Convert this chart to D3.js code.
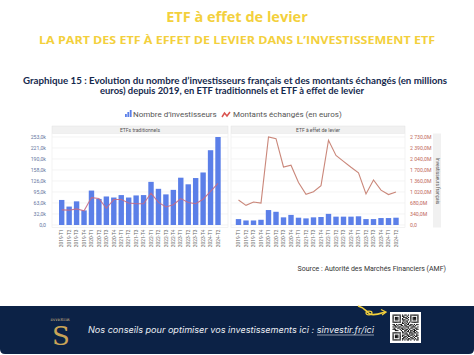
<!DOCTYPE html>
<html><head><meta charset="utf-8">
<script src="https://cdn.jsdelivr.net/npm/d3@7/dist/d3.min.js"></script>
<style>
html,body{margin:0;padding:0;background:#fff;}
svg{display:block;}
</style></head>
<body>
<svg id="c" width="474" height="355"></svg>
<script>
// ---------- DATA ----------
const quarters = ["2019-T1","2019-T2","2019-T3","2019-T4","2020-T1","2020-T2","2020-T3","2020-T4",
  "2021-T1","2021-T2","2021-T3","2021-T4","2022-T1","2022-T2","2022-T3","2022-T4",
  "2023-T1","2023-T2","2023-T3","2023-T4","2024-T1","2024-T2"];
// investors (thousands)
const investorsTrad = [72,53,68,42,99,75,82,79,86,79,85,86,124,104,88,101,136,117,135,151,215,253];
const investorsLev  = [17,13,13,15,43,38,22,29,21,19,22,23,32,24,24,24,25,17,17,20,20,21];
// amounts traded (millions of euros)
const amountsTrad = [470,460,500,440,850,820,520,790,790,680,660,660,990,700,560,630,820,700,660,800,1040,1290];
const amountsLev  = [775,610,715,680,2730,2680,1800,1855,1320,950,1030,1220,2630,2160,1975,1790,1620,965,1395,1080,945,1025];
const leftTickLabels  = ["0,0","32,0k","63,0k","95,0k","126,0k","158,0k","190,0k","221,0k","253,0k"];
const rightTickLabels = ["0,0","340,0M","680,0M","1 020,0M","1 360,0M","1 700,0M","2 040,0M","2 390,0M","2 730,0M"];
const panelTitles = ["ETFs traditionnels","ETF à effet de levier"];
const legendLabels = ["Nombre d’investisseurs","Montants échangés (en euros)"];

// ---------- SETUP ----------
const svg = d3.select("#c");
const yellow = "#F3D03C", navy = "#15294d", barColor = "#5b7fe8", lineColor = "#c47a6c";
const FONT = "Roboto, 'Noto Sans', sans-serif";

// titles
svg.append("text").attr("x",237).attr("y",22).attr("text-anchor","middle")
  .attr("font-family","'Open Sans', sans-serif").attr("font-weight","700").attr("font-size",14.5)
  .attr("fill",yellow).text("ETF à effet de levier");
svg.append("text").attr("x",237).attr("y",43.5).attr("text-anchor","middle")
  .attr("font-family","'Open Sans', sans-serif").attr("font-weight","700").attr("font-size",10)
  .attr("fill",yellow).attr("textLength",396).attr("lengthAdjust","spacingAndGlyphs")
  .text("LA PART DES ETF À EFFET DE LEVIER DANS L’INVESTISSEMENT ETF");
svg.append("text").attr("x",235).attr("y",84).attr("text-anchor","middle")
  .attr("font-family","Lato, sans-serif").attr("font-weight","700").attr("font-size",8.6)
  .attr("fill",navy).attr("textLength",424).attr("lengthAdjust","spacingAndGlyphs")
  .text("Graphique 15 : Evolution du nombre d’investisseurs français et des montants échangés (en millions");
svg.append("text").attr("x",232).attr("y",94).attr("text-anchor","middle")
  .attr("font-family","Lato, sans-serif").attr("font-weight","700").attr("font-size",8.6)
  .attr("fill",navy).attr("textLength",264).attr("lengthAdjust","spacingAndGlyphs")
  .text("euros) depuis 2019, en ETF traditionnels et ETF à effet de levier");

// legend
const lg = svg.append("g");
[[0,3],[2.4,5],[4.8,7]].forEach(d=>{
  lg.append("rect").attr("x",125+d[0]).attr("y",117-d[1]).attr("width",1.8).attr("height",d[1]).attr("fill",barColor);
});
lg.append("text").attr("x",133).attr("y",117).attr("font-family",FONT).attr("font-size",8)
  .attr("fill","#555").text(legendLabels[0]);
lg.append("path").attr("d","M222,117 L224.5,113 L227,116 L230,112").attr("fill","none")
  .attr("stroke","#d9534f").attr("stroke-width",1.5);
lg.append("text").attr("x",233).attr("y",117).attr("font-family",FONT).attr("font-size",8)
  .attr("fill","#555").text(legendLabels[1]);

// scales
const yInv = d3.scaleLinear().domain([0,253]).range([225,137]);
const yAmt = d3.scaleLinear().domain([0,2730]).range([225,137]);
const invTicks = d3.range(9).map(i=>253*i/8);
const amtTicks = d3.range(9).map(i=>2730*i/8);

const panels = [
  {x0:52, x1:228, cx:[61.7,218], inv:investorsTrad, amt:amountsTrad, title:panelTitles[0], lc:"#c46a86"},
  {x0:231, x1:405, cx:[238.5,396], inv:investorsLev, amt:amountsLev, title:panelTitles[1], lc:lineColor}
];

panels.forEach((p,pi)=>{
  const g = svg.append("g");
  g.append("rect").attr("x",p.x0).attr("y",126).attr("width",p.x1-p.x0).attr("height",7.5)
    .attr("fill","#f1f1f1").attr("stroke","#e2e2e2").attr("stroke-width",0.5);
  g.append("text").attr("x",(p.x0+p.x1)/2).attr("y",131.8).attr("text-anchor","middle")
    .attr("font-family",FONT).attr("font-size",5).attr("fill","#555").text(p.title);
  g.append("rect").attr("x",p.x0).attr("y",133.5).attr("width",p.x1-p.x0).attr("height",94)
    .attr("fill","#fff").attr("stroke","#ececec").attr("stroke-width",0.6);
  g.selectAll(".gl").data(invTicks).join("line")
    .attr("x1",p.x0).attr("x2",p.x1).attr("y1",d=>yInv(d)).attr("y2",d=>yInv(d))
    .attr("stroke","#ededed").attr("stroke-width",0.6);
  const x = d3.scalePoint().domain(quarters).range(p.cx);
  const bw = 5.4;
  g.selectAll(".bar").data(p.inv).join("rect")
    .attr("x",(d,i)=>x(quarters[i])-bw/2).attr("width",bw)
    .attr("y",d=>yInv(d)).attr("height",d=>yInv(0)-yInv(d)).attr("fill",barColor);
  const line = d3.line().x((d,i)=>x(quarters[i])).y(d=>yAmt(d));
  g.append("path").datum(p.amt).attr("d",line).attr("fill","none")
    .attr("stroke",p.lc).attr("stroke-width",1.1).attr("stroke-opacity",0.9);
  g.selectAll(".xl").data(quarters).join("text")
    .attr("transform",d=>`translate(${x(d)+1.7},229.5) rotate(-90)`)
    .attr("text-anchor","end").attr("font-family",FONT).attr("font-size",4.8)
    .attr("fill","#666").text(d=>d);
});

// left axis
const la = d3.axisLeft(yInv).tickValues(invTicks).tickSize(0).tickFormat((d,i)=>leftTickLabels[i]);
svg.append("g").attr("transform","translate(49,0)").call(la)
  .call(g=>g.select(".domain").remove())
  .call(g=>g.selectAll("text").attr("font-family",FONT).attr("font-size",5.2).attr("fill","#6575a0"));
// right axis
const ra = d3.axisRight(yAmt).tickValues(amtTicks).tickSize(0).tickFormat((d,i)=>rightTickLabels[i]);
svg.append("g").attr("transform","translate(407,0)").call(ra)
  .call(g=>g.select(".domain").remove())
  .call(g=>g.selectAll("text").attr("font-family",FONT).attr("font-size",5.2).attr("fill","#c0685a"));

// right rotated strip
svg.append("rect").attr("x",433).attr("y",133.5).attr("width",8).attr("height",94).attr("fill","#f1f1f1");
svg.append("text").attr("transform","translate(435.5,181) rotate(90)").attr("text-anchor","middle")
  .attr("font-family",FONT).attr("font-size",4.8).attr("fill","#555").text("Investisseurs français");

// source
svg.append("text").attr("x",446).attr("y",271).attr("text-anchor","end")
  .attr("font-family",FONT).attr("font-size",7).attr("fill","#333")
  .text("Source : Autorité des Marchés Financiers (AMF)");

// footer
svg.append("path").attr("d","M0,306 H474 V349 Q474,354 469,354 H5 Q0,354 0,349 Z").attr("fill","#0c2246");
svg.append("text").attr("x",61).attr("y",345).attr("text-anchor","middle")
  .attr("font-family","'DejaVu Serif', serif").attr("font-size",26).attr("fill","#c9a457").text("S");
svg.append("text").attr("x",60).attr("y",320.5).attr("text-anchor","middle")
  .attr("font-family","'DejaVu Serif', serif").attr("font-size",3.6).attr("fill","#e0c98f").text("INVESTIR");
svg.append("text").attr("x",88).attr("y",333).attr("font-family","Inter, 'Open Sans', sans-serif")
  .attr("font-style","italic").attr("font-size",8.3).attr("fill","#e9ecf2")
  .attr("textLength",286).attr("lengthAdjust","spacingAndGlyphs")
  .text("Nos conseils pour optimiser vos investissements ici : sinvestir.fr/ici");
svg.append("line").attr("x1",317).attr("x2",374).attr("y1",335).attr("y2",335).attr("stroke","#e9ecf2").attr("stroke-width",0.6);
// arrow
svg.append("path").attr("d","M358,306 C366,308 366,312 370,314 C374,316 379,314 385,312")
  .attr("fill","none").attr("stroke",yellow).attr("stroke-width",1.6);
svg.append("ellipse").attr("cx",369).attr("cy",313).attr("rx",3).attr("ry",1.8).attr("fill","none").attr("stroke",yellow).attr("stroke-width",1.2);
svg.append("path").attr("d","M381,309.5 L386,312 L382,315").attr("fill","none").attr("stroke",yellow).attr("stroke-width",1.3);
// QR code
svg.append("rect").attr("x",390).attr("y",312).attr("width",31).attr("height",31).attr("fill","#fff");
const qr = ["1111111010110101111111","1000001011001001000001","1011101001110101011101","1011101010011001011101",
"1011101011100101011101","1000001001011001000001","1111111010101010111111","0000000011010100000000",
"1101011100101101101011","0110100110110011010100","1011011001011100111001","0100110110100101100110",
"1110001011011010011011","0011100100110101101100","0000000010101101011010","1111111011010011101101",
"1000001000111010110010","1011101011001101101011","1011101010110110010110","1011101001101001101001",
"1000001011010110110101","1111111010101101001011"];
const qg = svg.append("g").attr("transform","translate(392.5,314.5)");
const cell = 26/22;
qr.forEach((row,r)=>row.split("").forEach((c,k)=>{ if(c==="1") qg.append("rect").attr("x",k*cell).attr("y",r*cell).attr("width",cell+0.05).attr("height",cell+0.05).attr("fill","#111"); }));
</script>
</body></html>
